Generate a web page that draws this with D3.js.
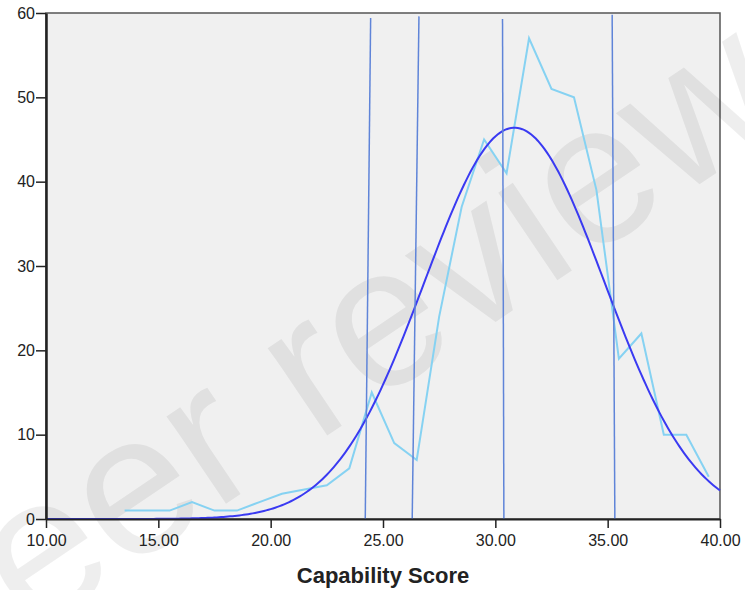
<!DOCTYPE html>
<html>
<head>
<meta charset="utf-8">
<script src="https://cdn.jsdelivr.net/npm/d3@7"></script>
<style>
  body { margin: 0; background: #fff; }
  svg { display: block; font-family: "Liberation Sans", Arial, sans-serif; }
</style>
</head>
<body>
<script>
// frequency polygon (midpoints of score bins and counts)
const scoreMids = [13.5, 14.5, 15.5, 16.5, 17.5, 18.5, 19.5, 20.5, 21.5, 22.5, 23.5, 24.5, 25.5, 26.5,
  27.5, 28.5, 29.5, 30.5, 31.5, 32.5, 33.5, 34.5, 35.5, 36.5, 37.5, 38.5, 39.5]
const counts = [1, 1, 1, 2, 1, 1, 2, 3, 3.5, 4, 6, 15, 9, 7,
  24, 37, 45, 41, 57, 51, 50, 39, 19, 22, 10, 10, 5]

// fitted normal curve
const curveMean = 30.85
const curveSd = 4.0
const curvePeak = 46.4

// reference lines: x at bottom, x at top, top value
const refBottom = [24.21, 26.30, 30.38, 35.32]
const refTop = [24.45, 26.60, 30.32, 35.20]
const refTopValue = [59.4, 59.6, 59.3, 59.8]

const xTicks = [10, 15, 20, 25, 30, 35, 40]
const yTicks = [0, 10, 20, 30, 40, 50, 60]

const width = 745
const height = 590
const plotLeft = 46, plotRight = 720, plotTop = 13, plotBottom = 519

const svg = d3.select('body')
  .append('svg')
  .attr('width', width)
  .attr('height', height)

const x = d3.scaleLinear().domain([10, 40]).range([plotLeft, plotRight])
const y = d3.scaleLinear().domain([0, 60]).range([plotBottom, plotTop])

svg.append('rect')
  .attr('x', plotLeft)
  .attr('y', plotTop)
  .attr('width', plotRight - plotLeft)
  .attr('height', plotBottom - plotTop)
  .attr('fill', '#f0f0f0')
  .attr('stroke', '#555')
  .attr('stroke-width', 1.5)

// watermark
svg.append('text')
  .attr('transform', 'translate(795, 120) rotate(-34)')
  .attr('text-anchor', 'end')
  .attr('font-size', 200)
  .attr('fill', '#000')
  .attr('fill-opacity', 0.065)
  .text('peer review')

const curvePts = d3.range(0, 301).map((i) => 10 + i * 0.1)
const normal = (v) => curvePeak * Math.exp(-((v - curveMean) ** 2) / (2 * curveSd * curveSd))

svg.append('path')
  .datum(scoreMids.map((m, i) => [m, counts[i]]))
  .attr('fill', 'none')
  .attr('stroke', '#86d2f2')
  .attr('stroke-width', 2)
  .attr('d', d3.line().x((d) => x(d[0])).y((d) => y(d[1])))

svg.append('path')
  .datum(curvePts)
  .attr('fill', 'none')
  .attr('stroke', '#3a3af2')
  .attr('stroke-width', 2)
  .attr('d', d3.line().x((d) => x(d)).y((d) => y(normal(d))))

svg.selectAll('line.ref')
  .data(refBottom)
  .enter()
  .append('line')
  .attr('class', 'ref')
  .attr('x1', (d) => x(d))
  .attr('y1', y(0))
  .attr('x2', (d, i) => x(refTop[i]))
  .attr('y2', (d, i) => y(refTopValue[i]))
  .attr('stroke', '#5f84d8')
  .attr('stroke-width', 1.5)

const xAxis = svg.append('g')
  .attr('transform', `translate(0, ${plotBottom})`)
  .call(d3.axisBottom(x).tickValues(xTicks).tickFormat(d3.format('.2f')).tickSize(9).tickSizeOuter(0))
xAxis.select('.domain').attr('stroke', '#222').attr('stroke-width', 2)
xAxis.selectAll('.tick line').attr('stroke', '#222').attr('stroke-width', 1.5)
xAxis.selectAll('text').attr('font-size', 16).attr('fill', '#222').attr('y', 16)

const yAxis = svg.append('g')
  .attr('transform', `translate(${plotLeft}, 0)`)
  .call(d3.axisLeft(y).tickValues(yTicks).tickSize(10).tickSizeOuter(0))
yAxis.select('.domain').attr('stroke', '#222').attr('stroke-width', 2.5)
yAxis.selectAll('.tick line').attr('stroke', '#222').attr('stroke-width', 1.5)
yAxis.selectAll('text').attr('font-size', 16).attr('fill', '#222').attr('x', -11)

svg.append('text')
  .attr('x', 383)
  .attr('y', 583)
  .attr('text-anchor', 'middle')
  .attr('font-size', 22)
  .attr('font-weight', 'bold')
  .attr('fill', '#222')
  .text('Capability Score')
</script>
</body>
</html>
